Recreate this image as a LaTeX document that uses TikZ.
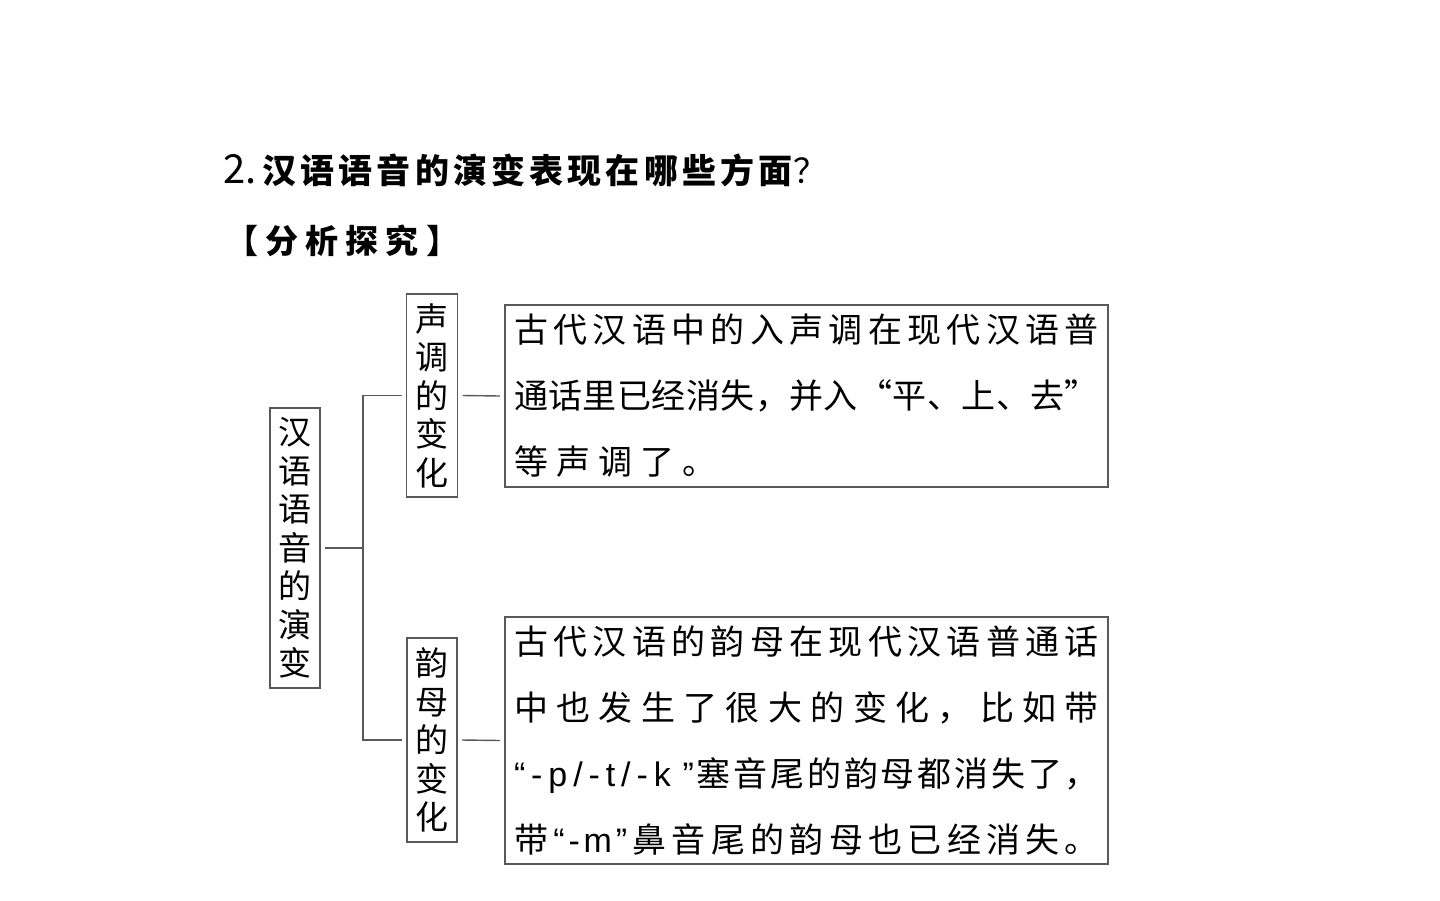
\documentclass[tikz,border=0pt]{standalone}
\usepackage{fontspec}
\setmainfont{Noto Sans CJK SC}
\newfontfamily\lat{Liberation Sans}
\makeatletter
\newcommand\spreadto[2]{\makebox[#1][s]{\def\spsep{}\@tfor\sptok:=#2\do{\spsep\sptok\def\spsep{\hfill}}}}
\makeatother
\begin{document}
\begin{tikzpicture}[x=1pt,y=-1pt,
  box/.style={draw=black!65, line width=1.4pt, inner sep=0pt, outer sep=5pt},
  vbox/.style={box, font=\fontsize{33}{38.5}\selectfont, align=center},
  tbox/.style={box, font=\fontsize{34}{66}\selectfont, align=left, text width=585pt},
  conn/.style={draw=black!65, line width=1.4pt}]
\useasboundingbox (0,0) rectangle (1440,900);
\node[anchor=west, inner sep=0pt, font=\fontsize{34}{40}\selectfont] (title) at (223,170)
  {{\fontsize{40}{44}\selectfont 2.}\hspace{6pt}{\bfseries\spreadto{530pt}{汉语语音的演变表现在哪些方面}}\hspace{1pt}？};
\node[anchor=west, inner sep=0pt, font=\bfseries\fontsize{33}{40}\selectfont] (sub) at (225,241)
  {\spreadto{234pt}{【分析探究】}};
\node[vbox, minimum width=50pt, minimum height=280pt] (root) at (295,548) {汉\\语\\语\\音\\的\\演\\变};
\node[vbox, minimum width=51pt, minimum height=203pt] (c1) at (432,395.5) {声\\调\\的\\变\\化};
\node[vbox, minimum width=50pt, minimum height=204pt] (c2) at (432,740) {韵\\母\\的\\变\\化};
\node[tbox, minimum width=603pt, minimum height=182pt] (t1) at (806.5,396)
  {\spreadto{585pt}{古代汉语中的入声调在现代汉语普}\\
   \spreadto{585pt}{通话里已经消失，并入“平、上、去”}\\
   \spreadto{203pt}{等声调了。}};
\node[tbox, minimum width=603pt, minimum height=247pt] (t2) at (806.5,740.5)
  {\spreadto{585pt}{古代汉语的韵母在现代汉语普通话}\\
   \spreadto{585pt}{中也发生了很大的变化，比如带}\\
   \spreadto{585pt}{{{\lat\fontsize{34}{40}\selectfont\makebox[180pt][s]{“\hfill-\hfill p\hfill/\hfill-\hfill t\hfill/\hfill-\hfill k\hfill\hfill ”}}}塞音尾的韵母都消失了，}\\
   \spreadto{585pt}{带{{\lat\fontsize{34}{40}\selectfont\makebox[74pt][s]{“\hfill-\hfill m\hfill”}}}鼻音尾的韵母也已经消失。}};
\coordinate (jm) at (363,548);
\draw[conn] (root.east) -- (jm);
\draw[conn] (c1.west) -| (jm) |- (c2.west);
\draw[conn] (c1.east) -- (t1.west);
\draw[conn] (c2.east) -- (t2.west);
\end{tikzpicture}
\end{document}
